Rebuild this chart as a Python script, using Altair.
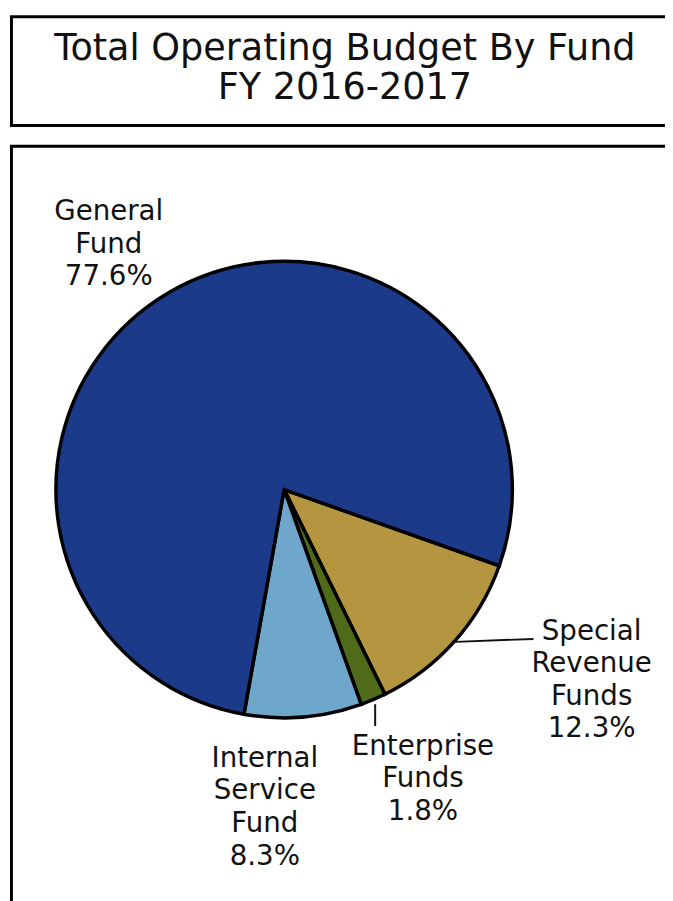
import math
import altair as alt
import pandas as pd

# ---- data ----
funds = ["Special Revenue Funds", "Enterprise Funds", "Internal Service Fund", "General Fund"]
label_names = ["Special\nRevenue\nFunds", "Enterprise\nFunds", "Internal\nService\nFund", "General\nFund"]
shares = [12.3, 1.8, 8.3, 77.6]
colors = ["#b3963f", "#4f6b1a", "#6fa6cc", "#1b3a8a"]
title_lines = ["Total Operating Budget By Fund", "FY 2016-2017"]

df = pd.DataFrame({
    "fund": funds,
    "share": shares,
    "label": [f"{n}\n{s}%" for n, s in zip(label_names, shares)],
    "order": list(range(len(funds))),
})

# ---- layout ----
W, H = 665, 893
CX, CY = 279.5, 482
R = 231
START = math.radians(109.5)
FONT = "DejaVu Sans"
INK = "#111111"

theta_scale = alt.Scale(domain=[0, 100], range=[START, START + 2 * math.pi])

base = alt.Chart(df).transform_window(
    cum="sum(share)", sort=[alt.SortField("order")], frame=[None, 0]
).transform_calculate(
    start="datum.cum - datum.share",
    mid="datum.cum - datum.share / 2",
    ang=f"{START} + datum.mid / 100 * 2 * PI",
)

arc = base.mark_arc(outerRadius=R, stroke="black", strokeWidth=3.5, strokeJoin="miter").encode(
    theta=alt.Theta("start:Q", scale=theta_scale),
    theta2="cum:Q",
    color=alt.Color("fund:N", scale=alt.Scale(domain=funds, range=colors), legend=None),
    x=alt.value(CX),
    y=alt.value(CY),
)

# label placement (first-line baseline): (radius, dx, dy)
label_layout = {
    "General Fund": (300, -26.7, -13.6),
    "Special Revenue Funds": (300, 87, -47.5),
    "Enterprise Funds": (290, 27.3, 1.5),
    "Internal Service Fund": (280, -43, 1.5),
}
label_layers = []
for f, (rad, dx, dy) in label_layout.items():
    label_layers.append(
        base.transform_filter(alt.datum.fund == f).mark_text(
            font=FONT, fontSize=28, lineHeight=33, lineBreak="\n",
            align="center", baseline="alphabetic", dx=dx, dy=dy, color=INK,
        ).encode(
            theta=alt.Theta("mid:Q", scale=theta_scale),
            radius=alt.value(rad),
            text="label:N",
            x=alt.value(CX),
            y=alt.value(CY),
        )
    )

# leader lines: (start radius, dx, dy)
leader_layout = {
    "Special Revenue Funds": (232, 79, -3),
    "Enterprise Funds": (236, 0, 22),
}
leader_layers = []
for f, (rad, dx, dy) in leader_layout.items():
    leader_layers.append(
        base.transform_filter(alt.datum.fund == f).transform_calculate(
            lx=f"{CX} + {rad} * sin(datum.ang)",
            ly=f"{CY} - {rad} * cos(datum.ang)",
        ).transform_calculate(
            lx2=f"datum.lx + {dx}",
            ly2=f"datum.ly + {dy}",
        ).mark_rule(color=INK, strokeWidth=2).encode(
            x=alt.X("lx:Q", scale=None, axis=None),
            y=alt.Y("ly:Q", scale=None, axis=None),
            x2="lx2:Q",
            y2="ly2:Q",
        )
    )

box_src = alt.Chart(pd.DataFrame({"k": [0]}))
title_box = box_src.mark_rect(fillOpacity=0, stroke="black", strokeWidth=3).encode(
    x=alt.value(3.5), x2=alt.value(720), y=alt.value(3.5), y2=alt.value(113.5)
)
main_box = box_src.mark_rect(fillOpacity=0, stroke="black", strokeWidth=3).encode(
    x=alt.value(3.5), x2=alt.value(720), y=alt.value(134.5), y2=alt.value(960)
)
title_layers = []
for i, line in enumerate(title_lines):
    title_layers.append(
        alt.Chart(pd.DataFrame({"t": [line]})).mark_text(
            font=FONT, fontSize=37, align="center", baseline="alphabetic", color=INK,
        ).encode(text="t:N", x=alt.value(341), y=alt.value(47 + 40 * i))
    )

chart = alt.layer(
    title_box, main_box, arc, *leader_layers, *label_layers, *title_layers
).properties(
    width=W, height=H, padding=0, autosize=alt.AutoSizeParams(type="none")
).configure_view(stroke=None)

chart.save("out.html", embed_options={"renderer": "svg", "actions": False})
